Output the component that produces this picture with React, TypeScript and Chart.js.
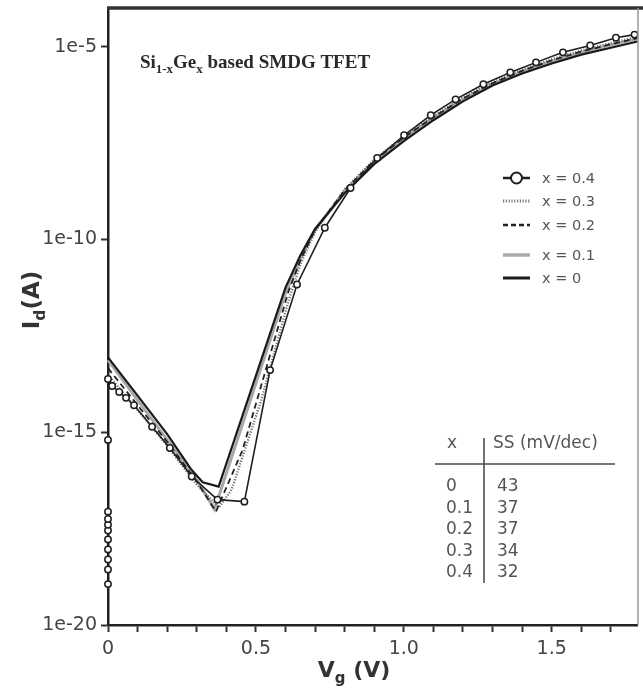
import React, { useEffect, useRef } from 'react';
import { Chart, registerables } from 'chart.js';

Chart.register(...registerables);

// ---------- data (Vg in V, Id in A) ----------
const vgX00 = [0, 0.1, 0.2, 0.28, 0.32, 0.374, 0.6, 0.65, 0.7, 0.8, 0.9, 1.0, 1.1, 1.2, 1.3, 1.4, 1.5, 1.6, 1.7, 1.79];
const idX00 = [8.71e-14, 8.91e-15, 8.91e-16, 1.12e-16, 5.01e-17, 3.89e-17, 5.62e-12, 3.8e-11, 1.86e-10, 1.58e-9, 8.91e-9, 3.55e-8, 1.23e-7, 3.8e-7, 9.77e-7, 2.0e-6, 3.63e-6, 6.17e-6, 9.33e-6, 1.35e-5];

const vgX01 = [0, 0.1, 0.2, 0.3, 0.36, 0.6, 0.65, 0.7, 0.8, 0.9, 1.0, 1.1, 1.2, 1.3, 1.4, 1.5, 1.6, 1.7, 1.79];
const idX01 = [7.41e-14, 6.76e-15, 6.31e-16, 5.89e-17, 1.0e-17, 3.98e-12, 3.16e-11, 1.78e-10, 1.78e-9, 1.05e-8, 4.17e-8, 1.41e-7, 4.27e-7, 1.07e-6, 2.24e-6, 4.17e-6, 7.08e-6, 1.1e-5, 1.58e-5];

const vgX02 = [0, 0.1, 0.2, 0.3, 0.365, 0.455, 0.61, 0.65, 0.7, 0.8, 0.9, 1.0, 1.1, 1.2, 1.3, 1.4, 1.5, 1.6, 1.7, 1.79];
const idX02 = [4.57e-14, 5.01e-15, 5.62e-16, 5.25e-17, 8.71e-18, 3.47e-16, 4.47e-12, 2.82e-11, 1.78e-10, 1.86e-9, 1.1e-8, 4.37e-8, 1.48e-7, 4.47e-7, 1.12e-6, 2.34e-6, 4.37e-6, 7.41e-6, 1.15e-5, 1.66e-5];

const vgX03 = [0, 0.1, 0.2, 0.3, 0.375, 0.418, 0.518, 0.61, 0.65, 0.7, 0.8, 0.9, 1.0, 1.1, 1.2, 1.3, 1.4, 1.5, 1.6, 1.7, 1.79];
const idX03 = [3.02e-14, 3.8e-15, 4.47e-16, 4.37e-17, 1.12e-17, 3.24e-17, 6.76e-15, 2.51e-12, 2.24e-11, 1.58e-10, 2.0e-9, 1.17e-8, 4.68e-8, 1.58e-7, 4.79e-7, 1.2e-6, 2.51e-6, 4.68e-6, 7.94e-6, 1.23e-5, 1.78e-5];

const vgX04 = [0, 0, 0, 0, 0, 0, 0, 0, 0, 0, 0, 0.014, 0.038, 0.061, 0.088, 0.149, 0.209, 0.283, 0.37, 0.461, 0.548, 0.639, 0.733, 0.82, 0.91, 1.001, 1.091, 1.175, 1.269, 1.36, 1.447, 1.538, 1.63, 1.717, 1.78];
const idX04 = [1.15e-19, 2.75e-19, 5.01e-19, 9.12e-19, 1.66e-18, 2.82e-18, 3.98e-18, 5.62e-18, 8.71e-18, 6.31e-16, 2.4e-14, 1.58e-14, 1.1e-14, 7.76e-15, 5.01e-15, 1.38e-15, 3.89e-16, 7.08e-17, 1.78e-17, 1.58e-17, 4.07e-14, 6.76e-12, 2.0e-10, 2.14e-9, 1.29e-8, 5.01e-8, 1.66e-7, 4.27e-7, 1.05e-6, 2.14e-6, 3.89e-6, 7.08e-6, 1.07e-5, 1.7e-5, 2.04e-5];

const legendLabels = ['x = 0.4', 'x = 0.3', 'x = 0.2', 'x = 0.1', 'x = 0'];

const xTickValues = [0, 0.1, 0.2, 0.3, 0.4, 0.5, 0.6, 0.7, 0.8, 0.9, 1.0, 1.1, 1.2, 1.3, 1.4, 1.5, 1.6, 1.7];
const xTickLabels = ['0', '', '', '', '', '0.5', '', '', '', '', '1.0', '', '', '', '', '1.5', '', ''];
const yTickValues = [1e-20, 1e-15, 1e-10, 1e-5];
const yTickLabels = ['1e-20', '1e-15', '1e-10', '1e-5'];

const tableHeader = ['x', 'SS (mV/dec)'];
const tableX = ['0', '0.1', '0.2', '0.3', '0.4'];
const tableSS = ['43', '37', '37', '34', '32'];

const SANS = '"DejaVu Sans", sans-serif';

type Part = { t: string; sub?: boolean };

function drawRich(
  ctx: CanvasRenderingContext2D,
  parts: Part[],
  x: number,
  y: number,
  size: number,
  family: string,
  weight: string,
  color: string,
  align: 'left' | 'center'
) {
  const subSize = size * 0.68;
  const widths = parts.map((p) => {
    ctx.font = `${weight} ${p.sub ? subSize : size}px ${family}`;
    return ctx.measureText(p.t).width;
  });
  const total = widths.reduce((a, b) => a + b, 0);
  let cx = align === 'center' ? x - total / 2 : x;
  ctx.fillStyle = color;
  ctx.textBaseline = 'alphabetic';
  ctx.textAlign = 'left';
  parts.forEach((p, i) => {
    ctx.font = `${weight} ${p.sub ? subSize : size}px ${family}`;
    ctx.fillText(p.t, cx, p.sub ? y + size * 0.28 : y);
    cx += widths[i];
  });
}

const decorPlugin = {
  id: 'decor',
  afterDraw(chart: any) {
    const ctx: CanvasRenderingContext2D = chart.ctx;
    const a = chart.chartArea;
    ctx.save();
    // frame: top thick, right thin
    ctx.strokeStyle = '#333';
    ctx.lineWidth = 3.5;
    ctx.beginPath();
    ctx.moveTo(a.left - 1, a.top);
    ctx.lineTo(643, a.top);
    ctx.stroke();
    ctx.strokeStyle = '#999';
    ctx.lineWidth = 1.5;
    ctx.beginPath();
    ctx.moveTo(a.right + 0.5, a.top);
    ctx.lineTo(a.right + 0.5, a.bottom);
    ctx.stroke();

    // inner title
    drawRich(
      ctx,
      [{ t: 'Si' }, { t: '1-x', sub: true }, { t: 'Ge' }, { t: 'x', sub: true }, { t: ' based SMDG TFET' }],
      140,
      68,
      19,
      '"Liberation Serif", serif',
      'bold',
      '#2a2a2a',
      'left'
    );

    // axis titles
    drawRich(ctx, [{ t: 'V' }, { t: 'g', sub: true }, { t: ' (V)' }], 354, 677, 22, SANS, 'bold', '#333', 'center');
    ctx.save();
    ctx.translate(39, 300);
    ctx.rotate(-Math.PI / 2);
    drawRich(ctx, [{ t: 'I' }, { t: 'd', sub: true }, { t: '(A)' }], 0, 0, 23, SANS, 'bold', '#333', 'center');
    ctx.restore();

    // legend
    const rows = [178, 201, 225, 255, 278];
    const x0 = 503;
    const x1 = 530;
    rows.forEach((ry, i) => {
      ctx.setLineDash([]);
      if (i === 0) {
        ctx.strokeStyle = '#1e1e1e';
        ctx.lineWidth = 2.5;
        ctx.beginPath();
        ctx.moveTo(x0, ry);
        ctx.lineTo(x1, ry);
        ctx.stroke();
        ctx.beginPath();
        ctx.arc((x0 + x1) / 2, ry, 5.5, 0, Math.PI * 2);
        ctx.fillStyle = '#fff';
        ctx.fill();
        ctx.lineWidth = 2;
        ctx.stroke();
      } else if (i === 1) {
        ctx.strokeStyle = '#777';
        ctx.lineWidth = 3;
        ctx.setLineDash([1.2, 1.6]);
        ctx.beginPath();
        ctx.moveTo(x0, ry);
        ctx.lineTo(x1, ry);
        ctx.stroke();
      } else if (i === 2) {
        ctx.strokeStyle = '#222';
        ctx.lineWidth = 2.5;
        ctx.setLineDash([5, 3]);
        ctx.beginPath();
        ctx.moveTo(x0, ry);
        ctx.lineTo(x1, ry);
        ctx.stroke();
      } else if (i === 3) {
        ctx.strokeStyle = '#aaa';
        ctx.lineWidth = 3.5;
        ctx.beginPath();
        ctx.moveTo(x0, ry);
        ctx.lineTo(x1, ry);
        ctx.stroke();
      } else {
        ctx.strokeStyle = '#1a1a1a';
        ctx.lineWidth = 3;
        ctx.beginPath();
        ctx.moveTo(x0, ry);
        ctx.lineTo(x1, ry);
        ctx.stroke();
      }
      ctx.setLineDash([]);
      ctx.fillStyle = '#555';
      ctx.font = `14.5px ${SANS}`;
      ctx.textAlign = 'left';
      ctx.textBaseline = 'middle';
      ctx.fillText(legendLabels[i], 542, ry + 1);
    });

    // SS table
    ctx.fillStyle = '#555';
    ctx.font = `17px ${SANS}`;
    ctx.textAlign = 'left';
    ctx.textBaseline = 'middle';
    ctx.fillText(tableHeader[0], 447, 444);
    ctx.fillText(tableHeader[1], 493, 444);
    ctx.strokeStyle = '#777';
    ctx.lineWidth = 2;
    ctx.beginPath();
    ctx.moveTo(435, 464);
    ctx.lineTo(615, 464);
    ctx.stroke();
    ctx.strokeStyle = '#444';
    ctx.lineWidth = 1.5;
    ctx.beginPath();
    ctx.moveTo(484, 438);
    ctx.lineTo(484, 583);
    ctx.stroke();
    tableX.forEach((t, i) => {
      const ry = 487 + i * 21.5;
      ctx.fillText(t, 446, ry);
      ctx.fillText(tableSS[i], 497, ry);
    });
    ctx.restore();
  },
};

const pts = (xs: number[], ys: number[]) => xs.map((v, i) => ({ x: v, y: ys[i] }));

const zeroPad = (s: any) => {
  s.paddingTop = 0;
  s.paddingBottom = 0;
  s.paddingLeft = 0;
  s.paddingRight = 0;
};

export default function App() {
  const ref = useRef<HTMLCanvasElement | null>(null);
  useEffect(() => {
    if (!ref.current) return;
    const chart = new Chart(ref.current, {
      type: 'line',
      data: {
        datasets: [
          {
            label: legendLabels[0],
            data: pts(vgX04, idX04),
            borderColor: '#1e1e1e',
            borderWidth: 1.6,
            pointRadius: 3.2,
            pointBackgroundColor: '#fff',
            pointBorderColor: '#1e1e1e',
            pointBorderWidth: 1.5,
            order: 0,
            clip: false,
          },
          {
            label: legendLabels[4],
            data: pts(vgX00, idX00),
            borderColor: '#1a1a1a',
            borderWidth: 2.2,
            pointRadius: 0,
            order: 1,
            clip: false,
          },
          {
            label: legendLabels[2],
            data: pts(vgX02, idX02),
            borderColor: '#222',
            borderWidth: 1.8,
            borderDash: [6, 4],
            pointRadius: 0,
            order: 2,
            clip: false,
          },
          {
            label: legendLabels[1],
            data: pts(vgX03, idX03),
            borderColor: '#6e6e6e',
            borderWidth: 2.4,
            borderDash: [1.2, 1.6],
            pointRadius: 0,
            order: 3,
            clip: false,
          },
          {
            label: legendLabels[3],
            data: pts(vgX01, idX01),
            borderColor: '#a8a8a8',
            borderWidth: 3,
            pointRadius: 0,
            order: 4,
            clip: false,
          },
        ] as any,
      },
      options: {
        responsive: false,
        animation: false,
        devicePixelRatio: 1,
        layout: { padding: { top: 8, right: 2, left: 0, bottom: 0 } },
        plugins: { legend: { display: false }, tooltip: { enabled: false }, title: { display: false } },
        elements: { line: { tension: 0 } },
        scales: {
          x: {
            type: 'linear',
            min: 0,
            max: 1.79,
            afterBuildTicks: (s: any) => {
              s.ticks = xTickValues.map((v) => ({ value: v }));
            },
            afterFit: (s: any) => {
              s.height = 68;
              zeroPad(s);
            },
            ticks: {
              autoSkip: false,
              maxRotation: 0,
              padding: 6,
              color: '#444',
              font: { family: SANS, size: 19 },
              callback: (_v: any, i: number) => xTickLabels[i],
            },
            grid: { display: true, drawOnChartArea: false, drawTicks: true, tickLength: 7, tickColor: '#333', tickWidth: 2 },
            border: { display: true, color: '#222', width: 2.5 },
          },
          y: {
            type: 'logarithmic',
            min: 1e-20,
            max: 1e-4,
            afterBuildTicks: (s: any) => {
              s.ticks = yTickValues.map((v) => ({ value: v }));
            },
            afterFit: (s: any) => {
              s.width = 108;
              zeroPad(s);
            },
            ticks: {
              autoSkip: false,
              padding: 4,
              color: '#444',
              font: { family: SANS, size: 19 },
              callback: (_v: any, i: number) => yTickLabels[i],
            },
            grid: { display: true, drawOnChartArea: false, drawTicks: true, tickLength: 7, tickColor: '#333', tickWidth: 2 },
            border: { display: true, color: '#222', width: 2.5 },
          },
        },
      } as any,
      plugins: [decorPlugin],
    });
    return () => chart.destroy();
  }, []);
  return (
    <div style={{ position: 'absolute', left: 0, top: 0, width: 643, height: 693, background: '#fff' }}>
      <canvas ref={ref} width={643} height={693} style={{ display: 'block' }} />
    </div>
  );
}
